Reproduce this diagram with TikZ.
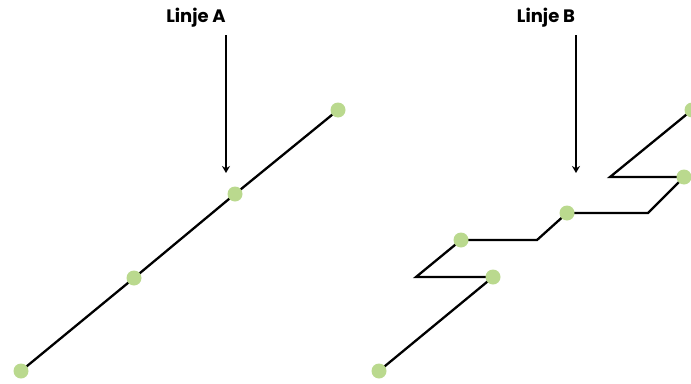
\documentclass[tikz,border=0pt]{standalone}
\usepackage{fontspec}
\setmainfont{Poppins}
\usetikzlibrary{arrows.meta}
\definecolor{dotgreen}{RGB}{186,217,142}
\tikzset{
  dot/.style={circle,fill=dotgreen,inner sep=0pt,minimum size=15pt},
  seg/.style={line width=2.3pt,black,line join=miter},
  pointer/.style={line width=2.3pt,-{Stealth[length=7pt,width=8pt]}},
  title/.style={font=\fontsize{18}{21}\selectfont\bfseries}
}
\begin{document}
\begin{tikzpicture}[x=1pt,y=-1pt]
\useasboundingbox (0,0) rectangle (691,383);
\clip (0,0) rectangle (691,383);
% Line A
\node[title] (tA) at (196,18) {Linje A};
\coordinate (sA) at (226,35);
\coordinate (eA) at (226,173);
\draw[pointer] (sA) -- (eA);
\coordinate (a1) at (21,371);
\coordinate (a2) at (134,278);
\coordinate (a3) at (235,194);
\coordinate (a4) at (338,110);
\draw[seg] (a1) -- (a2) -- (a3) -- (a4);
\foreach \p in {a1,a2,a3,a4} \node[dot] at (\p) {};
% Line B
\node[title] (tB) at (546,18) {Linje B};
\coordinate (sB) at (576,35);
\coordinate (eB) at (576,173);
\draw[pointer] (sB) -- (eB);
\coordinate (b1) at (379,371);
\coordinate (b2) at (493,277);
\coordinate (k1) at (416,277);
\coordinate (b3) at (461,240);
\coordinate (k2) at (537,240);
\coordinate (b4) at (567,213);
\coordinate (k3) at (648,213);
\coordinate (b5) at (684,177);
\coordinate (k4) at (610,177);
\coordinate (b6) at (692,110);
\draw[seg] (b1) -- (b2) -- (k1) -- (b3) -- (k2) -- (b4) -- (k3) -- (b5) -- (k4) -- (b6);
\foreach \p in {b1,b2,b3,b4,b5,b6} \node[dot] at (\p) {};
\end{tikzpicture}
\end{document}
